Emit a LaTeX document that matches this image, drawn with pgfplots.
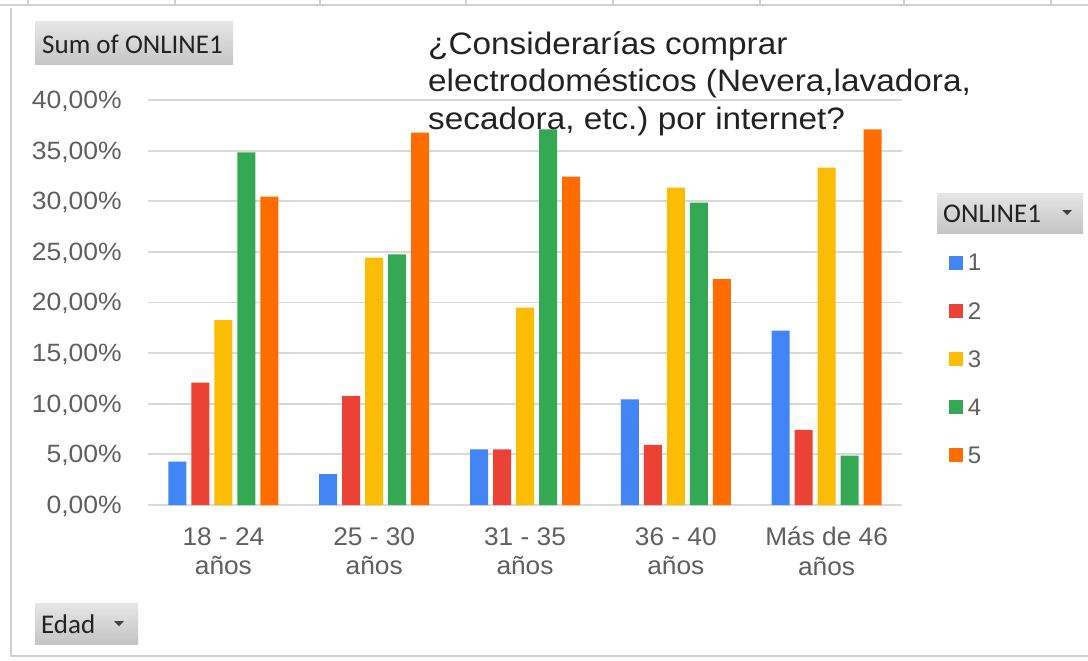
\documentclass[border=0pt]{standalone}
\usepackage{fontspec}
\setmainfont{Liberation Sans}
\newfontfamily\carlito{Carlito}
\usepackage{pgfplots}
\pgfplotsset{compat=1.18}
\definecolor{c1}{HTML}{4285F4}
\definecolor{c2}{HTML}{EA4335}
\definecolor{c3}{HTML}{FBBC04}
\definecolor{c4}{HTML}{34A853}
\definecolor{c5}{HTML}{FF6D01}
\definecolor{gridc}{HTML}{D9D9D9}
\definecolor{lab}{HTML}{5F5F5F}
\definecolor{ttl}{HTML}{222222}
\definecolor{btntop}{HTML}{E6E6E6}
\definecolor{btnbot}{HTML}{C4C4C4}
\definecolor{framec}{HTML}{D0D0D0}
\pgfplotsset{sq legend/.style={legend image code/.code={\fill[##1] (0pt,-6.4pt) rectangle (14pt,7.6pt);}}}
\frenchspacing
\begin{document}
\begin{tikzpicture}
\useasboundingbox (0pt,0pt) rectangle (1088pt,-661pt);
\fill[white] (0pt,0pt) rectangle (1088pt,-661pt);
% spreadsheet lines and chart frame
\draw[framec, line width=1.5pt] (0pt,-5pt) -- (1088pt,-5pt);
\foreach \x in {28,175,320,466,613,760,904,1051} \draw[framec, line width=1.2pt] (\x pt,0pt) -- (\x pt,-5pt);
\draw[framec, line width=1.2pt] (11pt,-8pt) -- (11pt,-656pt) -- (1088pt,-656pt);

\begin{axis}[
  at={(148pt,-505pt)}, anchor=south west,
  scale only axis, width=754pt, height=405pt,
  xmin=-0.5, xmax=4.5, ymin=0, ymax=40,
  clip=false,
  axis line style={draw=none},
  major tick length=0pt,
  ymajorgrids, grid style={gridc, line width=1.8pt},
  ytick={0,5,...,40},
  yticklabels={{0,00\%},{5,00\%},{10,00\%},{15,00\%},{20,00\%},{25,00\%},{30,00\%},{35,00\%},{40,00\%}},
  yticklabel style={anchor=base east, inner sep=0pt, xshift=-26pt, yshift=-8.4pt,
     font=\fontsize{25}{30}\selectfont, text=lab, xscale=1.06},
  xtick={0,...,4},
  xticklabels={{18 - 24\\años},{25 - 30\\años},{31 - 35\\años},{36 - 40\\años},{Más de 46\\años}},
  xticklabel style={anchor=north, align=center, inner sep=0pt, yshift=-22pt,
     font=\fontsize{25.5}{29.5}\selectfont, text=lab, xscale=1.03},
  ybar=5pt, bar width=18pt,
  legend cell align=left,
  legend style={at={(axis description cs:1.0623,0.619)}, anchor=north west,
     draw=none, fill=none, inner sep=0pt, outer sep=0pt,
     row sep=30pt, column sep=5pt,
     font=\fontsize{24}{24}\selectfont, text=lab, nodes={inner sep=0pt}},
]
\addplot[fill=c1, draw=none, sq legend] coordinates {(0,4.28) (1,3.06) (2,5.50) (3,10.44) (4,17.22)};
\addplot[fill=c2, draw=none, sq legend] coordinates {(0,12.08) (1,10.77) (2,5.50) (3,5.93) (4,7.41)};
\addplot[fill=c3, draw=none, sq legend] coordinates {(0,18.27) (1,24.43) (2,19.49) (3,31.34) (4,33.32)};
\addplot[fill=c4, draw=none, sq legend] coordinates {(0,34.83) (1,24.76) (2,37.10) (3,29.86) (4,4.87)};
\addplot[fill=c5, draw=none, sq legend] coordinates {(0,30.45) (1,36.77) (2,32.43) (3,22.32) (4,37.10)};
\legend{1,2,3,4,5}
\end{axis}

% title
\begin{scope}[every node/.style={anchor=base west, inner sep=0pt, font=\fontsize{31}{37}\selectfont, text=ttl, xscale=1.075}]
\node at (428pt,-55pt) {¿Considerarías comprar};
\node at (428pt,-92pt) {electrodomésticos (Nevera,lavadora,};
\node at (428pt,-129pt) {secadora, etc.) por internet?};
\end{scope}

% buttons
\shade[top color=btntop, bottom color=btnbot] (35pt,-22pt) rectangle (233pt,-65pt);
\node[anchor=west, inner sep=0pt, font=\carlito\fontsize{27}{30}\selectfont, text=ttl] at (42pt,-44pt) {Sum of ONLINE1};

\shade[top color=btntop, bottom color=btnbot] (937pt,-193pt) rectangle (1083pt,-233pt);
\node[anchor=west, inner sep=0pt, font=\carlito\fontsize{27}{30}\selectfont, text=ttl] at (943pt,-214pt) {ONLINE1};
\fill[black!75] (1062pt,-210pt) -- (1072pt,-210pt) -- (1067pt,-215pt) -- cycle;

\shade[top color=btntop, bottom color=btnbot] (35pt,-603pt) rectangle (138pt,-644pt);
\node[anchor=west, inner sep=0pt, font=\carlito\fontsize{27}{30}\selectfont, text=ttl] at (41pt,-624pt) {Edad};
\fill[black!75] (114pt,-621pt) -- (124pt,-621pt) -- (119pt,-626pt) -- cycle;
\end{tikzpicture}
\end{document}
